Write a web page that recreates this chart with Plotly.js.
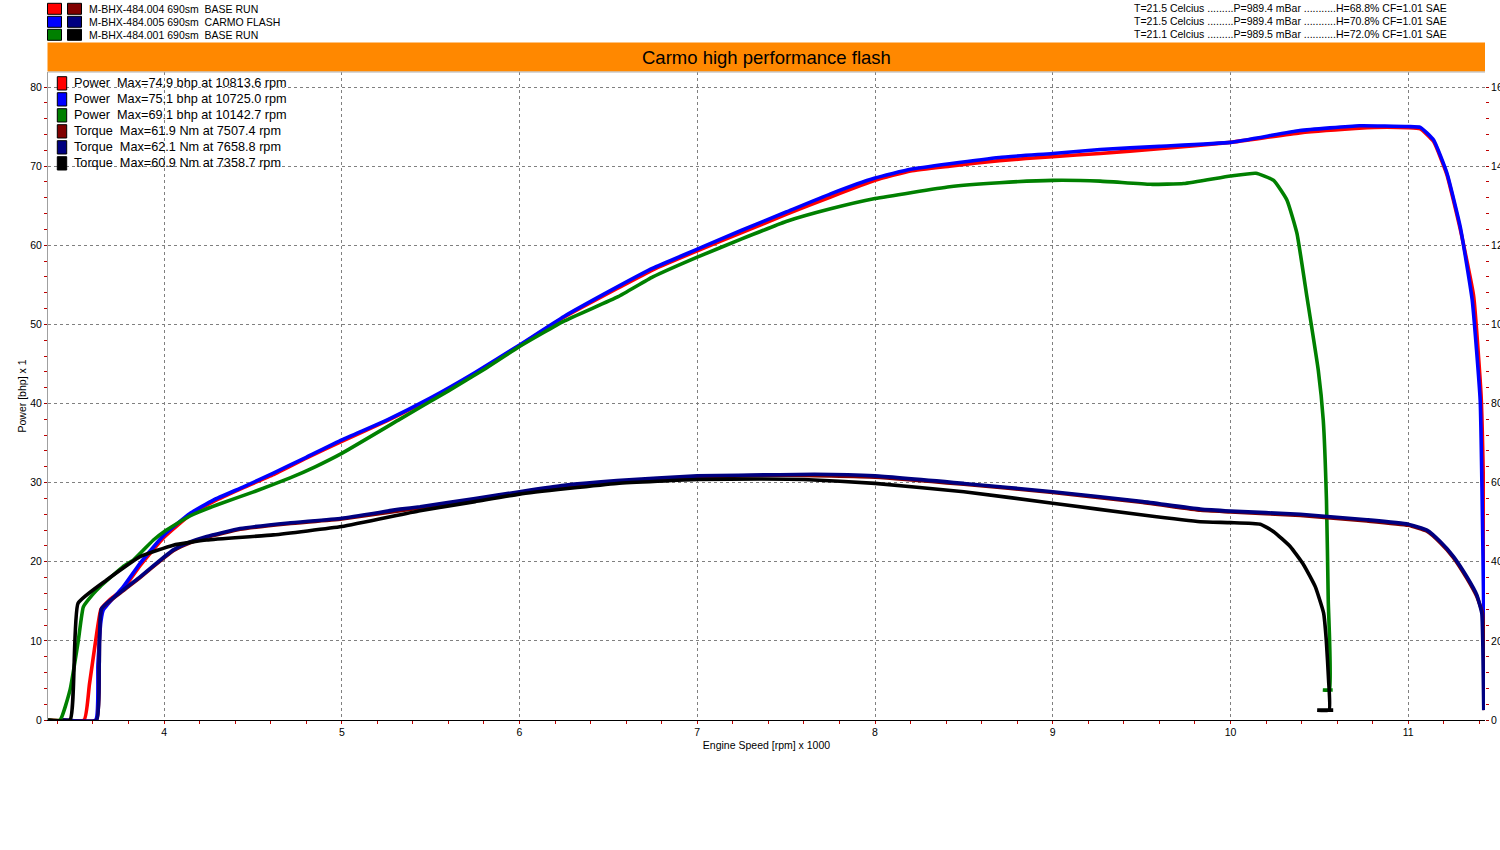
<!DOCTYPE html>
<html>
<head>
<meta charset="utf-8">
<script src="https://cdn.plot.ly/plotly-3.0.1.min.js"></script>
<style>
html,body{margin:0;padding:0;background:#fff;overflow:hidden;}
#chart{width:1500px;height:850px;}
</style>
</head>
<body>
<div id="chart"></div>
<script>
// ---------- data (rpm x 1000, power in bhp, torque in Nm) ----------
var redPowerRpm = [3.347,3.55,3.58,3.615,3.645,3.70,3.771,3.865,4.0,4.146,4.277,4.45,4.615,4.8,5.0,5.253,5.5,5.75,6.0,6.25,6.555,6.75,7.0,7.25,7.5,7.75,8.0,8.2,8.42,8.7,9.0,9.267,9.6,10.0,10.39,10.768,10.81,11.0,11.068,11.143,11.218,11.293,11.368,11.41,11.423,11.43,11.433,11.435];
var redPowerBhp = [0,0,4.5,10,14.0,15.3,16.6,19.5,23.1,25.9,27.6,29.4,31.0,33.1,35.2,37.8,40.6,43.8,47.3,50.9,54.6,56.9,59.3,61.6,63.9,66.1,68.2,69.4,70.0,70.7,71.2,71.6,72.2,73.0,74.2,74.85,74.9,74.85,74.7,73.1,68.9,62.0,53.6,41,30,18,8,2];

var bluePowerRpm = [3.43,3.615,3.628,3.645,3.658,3.771,3.865,4.0,4.146,4.277,4.45,4.615,4.8,5.0,5.253,5.5,5.75,6.0,6.25,6.555,6.75,7.0,7.25,7.5,7.75,8.0,8.2,8.42,8.7,9.0,9.267,9.6,10.0,10.39,10.725,11.0,11.068,11.143,11.218,11.293,11.36,11.405,11.416,11.424,11.427,11.418,11.427,11.428];
var bluePowerBhp = [0,0,7,12.5,13.9,16.85,19.8,23.4,26.1,27.8,29.5,31.2,33.2,35.4,37.9,40.7,43.9,47.4,51.0,54.8,57.1,59.5,61.9,64.2,66.5,68.5,69.6,70.3,71.1,71.6,72.1,72.5,73.0,74.5,75.1,75.0,74.9,73.3,69.1,62.3,53.1,40.4,27.8,15.2,4.7,4.7,4.7,1.5];

var greenPowerRpm = [3.347,3.415,3.471,3.518,3.546,3.60,3.64,3.771,3.827,3.94,4.0,4.146,4.3,4.5,4.709,4.85,5.0,5.318,5.6,5.8,6.0,6.25,6.555,6.75,7.0,7.25,7.5,7.75,8.0,8.42,8.7,9.0,9.267,9.549,9.737,10.0,10.143,10.243,10.318,10.374,10.43,10.494,10.522,10.54,10.55,10.557,10.52,10.575];
var greenPowerBhp = [0,0,3.8,10.1,14.3,15.9,16.85,19.4,20.2,22.75,23.8,25.8,27.2,28.8,30.6,32.0,33.7,37.9,41.6,44.3,47.2,50.4,53.5,56.0,58.5,60.8,63.0,64.6,65.9,67.4,67.9,68.2,68.1,67.7,67.8,68.75,69.1,68.2,65.7,61.5,53.5,44.2,37.9,27.8,15.2,3.8,3.8,3.8];

var darkredTorqueRpm = [3.43,3.62,3.635,3.647,3.771,3.865,4.0,4.052,4.146,4.24,4.428,4.7,5.0,5.44,5.75,6.0,6.25,6.548,7.0,7.507,8.0,8.5,9.0,9.507,9.83,10.0,10.393,10.768,11.0,11.105,11.18,11.255,11.33,11.386,11.418,11.425,11.43];
var darkredTorqueNm = [0,0,14,28.0,32.7,36.0,41.0,42.8,44.8,46.2,48.2,49.6,50.8,53.6,55.7,57.4,59.0,60.2,61.4,61.9,61.4,59.6,57.5,55.0,53.0,52.6,51.7,50.3,49.2,47.7,44.8,41.0,35.8,31.2,27,18,2.5];

var navyTorqueRpm = [3.43,3.62,3.635,3.649,3.771,3.865,4.0,4.052,4.146,4.24,4.428,4.7,5.0,5.328,5.44,5.75,6.0,6.25,6.548,7.0,7.463,7.659,8.0,8.5,9.0,9.507,9.83,10.0,10.393,10.768,11.0,11.105,11.18,11.255,11.33,11.386,11.414,11.42,11.425];
var navyTorqueNm = [0,0,14,28.2,32.9,36.2,41.2,43.0,45.0,46.4,48.4,49.8,51.0,53.3,53.9,56.0,57.7,59.3,60.5,61.7,62.0,62.1,61.7,59.8,57.7,55.2,53.3,52.8,52.0,50.6,49.5,48.0,45.1,41.3,36.2,31.6,27.0,18.5,2.5];

var blackTorqueRpm = [3.347,3.471,3.516,3.677,3.865,4.052,4.24,4.615,5.0,5.44,5.75,6.0,6.548,7.0,7.359,7.6,8.0,8.5,9.0,9.507,9.83,10.0,10.168,10.243,10.337,10.412,10.477,10.524,10.539,10.552,10.555,10.488,10.578];
var blackTorqueNm = [0,0,29.5,35.4,41.3,44.2,45.5,46.8,48.9,52.9,55.2,57.1,59.8,60.8,60.9,60.8,59.8,57.7,54.8,51.8,50.1,49.9,49.5,47.6,43.8,39.2,33.7,27.0,20.2,10.1,2.5,2.5,2.5];

// ---------- text ----------
var chartTitle = "Carmo high performance flash";
var runNames = ["M-BHX-484.004 690sm\u00A0\u00A0BASE RUN", "M-BHX-484.005 690sm\u00A0\u00A0CARMO FLASH", "M-BHX-484.001 690sm\u00A0\u00A0BASE RUN"];
var runConditions = [
  "T=21.5 Celcius .........P=989.4 mBar ...........H=68.8% CF=1.01 SAE",
  "T=21.5 Celcius .........P=989.4 mBar ...........H=70.8% CF=1.01 SAE",
  "T=21.1 Celcius .........P=989.5 mBar ...........H=72.0% CF=1.01 SAE"
];
var maxLabels = [
  "Power\u00A0\u00A0Max=74.9 bhp at 10813.6 rpm",
  "Power\u00A0\u00A0Max=75.1 bhp at 10725.0 rpm",
  "Power\u00A0\u00A0Max=69.1 bhp at 10142.7 rpm",
  "Torque\u00A0\u00A0Max=61.9 Nm at 7507.4 rpm",
  "Torque\u00A0\u00A0Max=62.1 Nm at 7658.8 rpm",
  "Torque\u00A0\u00A0Max=60.9 Nm at 7358.7 rpm"
];
var xTitle = "Engine Speed [rpm] x 1000";
var yTitle = "Power [bhp] x 1";
var xTickVals = [4,5,6,7,8,9,10,11];
var yTickVals = [0,10,20,30,40,50,60,70,80];
var y2TickVals = [0,20,40,60,80,100,120,140,160];

// ---------- styling ----------
var powerColors = ["#ff0000", "#0000ff", "#008000"];
var torqueColors = ["#800000", "#000080", "#000000"];
var FONT = "Liberation Sans, Arial, sans-serif";
var W = 1500, H = 850, L = 48, R = 15, T = 72, B = 130;
function px(x){ return (x - L) / (W - L - R); }
function py(y){ return (H - B - y) / (H - T - B); }

var lw = 3.6;
var traces = [
  {x: redPowerRpm, y: redPowerBhp, color: powerColors[0], axis: 'y'},
  {x: darkredTorqueRpm, y: darkredTorqueNm, color: torqueColors[0], axis: 'y2'},
  {x: bluePowerRpm, y: bluePowerBhp, color: powerColors[1], axis: 'y'},
  {x: navyTorqueRpm, y: navyTorqueNm, color: torqueColors[1], axis: 'y2'},
  {x: greenPowerRpm, y: greenPowerBhp, color: powerColors[2], axis: 'y'},
  {x: blackTorqueRpm, y: blackTorqueNm, color: torqueColors[2], axis: 'y2'}
].map(function(t){
  return {x: t.x, y: t.y, yaxis: t.axis, type: 'scatter', mode: 'lines',
          line: {color: t.color, width: lw, shape: 'spline', smoothing: 0.4},
          hoverinfo: 'skip', showlegend: false};
});

var shapes = [], annotations = [];
// orange title bar
shapes.push({type:'rect', xref:'paper', yref:'paper', x0:px(47.5), x1:px(1485), y0:py(42.5), y1:py(71.5),
             fillcolor:'#ff8800', line:{width:0}, layer:'above'});
annotations.push({xref:'paper', yref:'paper', x:px(766), y:py(57), text:chartTitle, showarrow:false,
                  xanchor:'center', yanchor:'middle', font:{family:FONT, size:18.5, color:'#000'}});
// top border of plot
shapes.push({type:'line', xref:'paper', yref:'paper', x0:0, x1:1, y0:1, y1:1, line:{color:'#b0b0b0', width:1}});

// top-left run legend
for (var i = 0; i < 3; i++) {
  var rowTop = 3.3 + 13 * i;
  shapes.push({type:'rect', xref:'paper', yref:'paper', x0:px(47.5), x1:px(61.5), y0:py(rowTop), y1:py(rowTop+11),
               fillcolor:powerColors[i], line:{color:'#000', width:1}});
  shapes.push({type:'rect', xref:'paper', yref:'paper', x0:px(67.5), x1:px(81.5), y0:py(rowTop), y1:py(rowTop+11),
               fillcolor:torqueColors[i], line:{color:'#000', width:1}});
  annotations.push({xref:'paper', yref:'paper', x:px(87), y:py(rowTop+5.5), text:runNames[i], showarrow:false,
                    xanchor:'left', yanchor:'middle', font:{family:FONT, size:10.5, color:'#000'}});
  annotations.push({xref:'paper', yref:'paper', x:px(1132), y:py(rowTop+5), text:runConditions[i], showarrow:false,
                    xanchor:'left', yanchor:'middle', font:{family:FONT, size:10.5, color:'#000'}});
}
// inner max legend
var legColors = powerColors.concat(torqueColors);
for (var j = 0; j < 6; j++) {
  var rowT = 76.7 + 16 * j;
  shapes.push({type:'rect', xref:'paper', yref:'paper', x0:px(57.3), x1:px(66.7), y0:py(rowT), y1:py(rowT+13.3),
               fillcolor:legColors[j], line:{color:'#000', width:1}});
  annotations.push({xref:'paper', yref:'paper', x:px(71.5), y:py(rowT+6.7), text:maxLabels[j], showarrow:false,
                    xanchor:'left', yanchor:'middle', font:{family:FONT, size:12.7, color:'#000'}});
}

var yMax = (H - B - T) / 79.125 * 10; // 0..~81.9
var layout = {
  width: W, height: H,
  margin: {l: L, r: R, t: T, b: B, pad: 0},
  paper_bgcolor: '#fff', plot_bgcolor: '#fff',
  showlegend: false,
  font: {family: FONT, size: 10.5, color: '#000'},
  xaxis: {
    range: [3.347, 11.432], tickvals: xTickVals, ticktext: xTickVals.map(String),
    showgrid: true, gridcolor: '#808080', griddash: '3px,3px', gridwidth: 1,
    zeroline: false, showline: true, linecolor: '#000', linewidth: 1,
    ticks: 'outside', ticklen: 2, tickcolor: 'rgba(0,0,0,0)',
    minor: {dtick: 0.2, ticks: 'outside', ticklen: 3, tickcolor: '#c00000', tickwidth: 1, showgrid: false},
    tickfont: {family: FONT, size: 10.5, color: '#000'},
    title: {text: xTitle, font: {family: FONT, size: 10.5, color: '#000'}, standoff: 5},
    fixedrange: true, automargin: false
  },
  yaxis: {
    range: [0, yMax], tickvals: yTickVals, ticktext: yTickVals.map(String),
    showgrid: true, gridcolor: '#808080', griddash: '3px,3px', gridwidth: 1,
    zeroline: false, showline: true, linecolor: '#a0a0a0', linewidth: 1,
    ticks: 'outside', ticklen: 3, tickcolor: '#a00000',
    minor: {dtick: 2, ticks: 'outside', ticklen: 3, tickcolor: '#c00000', tickwidth: 1, showgrid: false},
    tickfont: {family: FONT, size: 10.5, color: '#000'},
    title: {text: yTitle, font: {family: FONT, size: 10.5, color: '#000'}, standoff: 1},
    fixedrange: true, automargin: false
  },
  yaxis2: {
    overlaying: 'y', side: 'right', anchor: 'x',
    range: [0, yMax * 2], tickvals: y2TickVals, ticktext: y2TickVals.map(String),
    showgrid: false, zeroline: false, showline: false,
    ticks: 'outside', ticklen: 3, tickcolor: '#a00000',
    minor: {dtick: 4, ticks: 'outside', ticklen: 3, tickcolor: '#c00000', tickwidth: 1, showgrid: false},
    tickfont: {family: FONT, size: 10.5, color: '#000'},
    fixedrange: true, automargin: false
  },
  shapes: shapes,
  annotations: annotations
};

Plotly.newPlot('chart', traces, layout, {staticPlot: true, displayModeBar: false});
</script>
</body>
</html>
